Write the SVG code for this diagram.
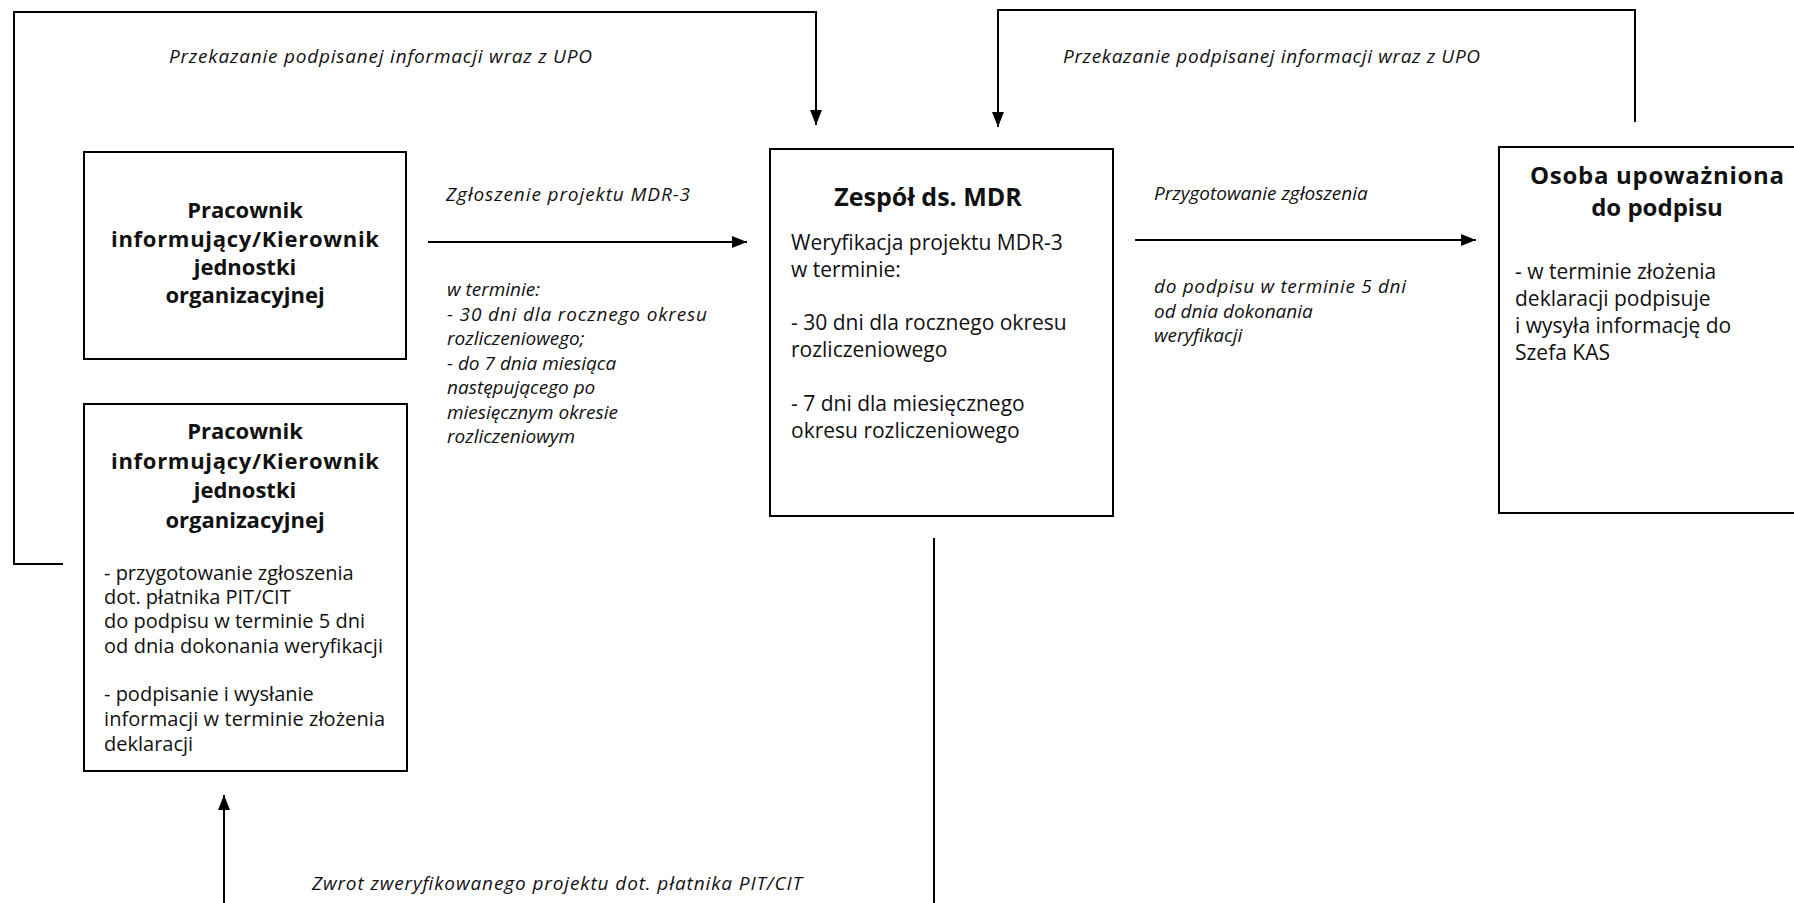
<svg xmlns="http://www.w3.org/2000/svg" width="1794" height="903" viewBox="0 0 1794 903">
<defs>
<marker id="ah" markerUnits="userSpaceOnUse" markerWidth="16" markerHeight="12" refX="15" refY="6" orient="auto">
<path d="M0,0 L15,6 L0,12 z" fill="#000"/>
</marker>
<style>
.box{fill:#fff;stroke:#000;stroke-width:2}
.ln{fill:none;stroke:#000;stroke-width:2}
.t{font-family:"Open Sans","Noto Sans",sans-serif;font-weight:700;font-size:22px;text-anchor:middle;fill:#111}
.b{font-family:"Open Sans","Noto Sans",sans-serif;font-size:20px;fill:#111}
.i{font-family:"Open Sans","Noto Sans",sans-serif;font-style:italic;font-size:19px;fill:#111}
</style>
</defs>
<rect width="1794" height="903" fill="#fff"/>
<g id="connectors">
<polyline class="ln" points="63,564 14,564 14,12 816,12 816,125" marker-end="url(#ah)"/>
<polyline class="ln" points="1635,122 1635,10 998,10 998,127" marker-end="url(#ah)"/>
<line class="ln" x1="428" y1="242" x2="747" y2="242" marker-end="url(#ah)"/>
<line class="ln" x1="1135" y1="240" x2="1476" y2="240" marker-end="url(#ah)"/>
<line class="ln" x1="224" y1="903" x2="224" y2="795" marker-end="url(#ah)"/>
<line class="ln" x1="934" y1="538" x2="934" y2="903"/>
<text class="i" x="169" y="63" textLength="423">Przekazanie podpisanej informacji wraz z UPO</text>
<text class="i" x="1063" y="63" textLength="417">Przekazanie podpisanej informacji wraz z UPO</text>
<text class="i" x="446" y="201" textLength="244">Zgłoszenie projektu MDR-3</text>
<text class="i" x="447" y="296">w terminie:</text>
<text class="i" x="447" y="320.5" textLength="260">- 30 dni dla rocznego okresu</text>
<text class="i" x="447" y="345">rozliczeniowego;</text>
<text class="i" x="447" y="369.5">- do 7 dnia miesiąca</text>
<text class="i" x="447" y="394">następującego po</text>
<text class="i" x="447" y="418.5">miesięcznym okresie</text>
<text class="i" x="447" y="443">rozliczeniowym</text>
<text class="i" x="1154" y="200">Przygotowanie zgłoszenia</text>
<text class="i" x="1154" y="293" textLength="252">do podpisu w terminie 5 dni</text>
<text class="i" x="1154" y="318">od dnia dokonania</text>
<text class="i" x="1154" y="342">weryfikacji</text>
<text class="i" x="312" y="890" textLength="490">Zwrot zweryfikowanego projektu dot. płatnika PIT/CIT</text>
</g>
<g id="node-pracownik-1">
<rect class="box" x="84" y="152" width="322" height="207"/>
<text class="t" x="245" y="218">Pracownik</text>
<text class="t" x="245" y="247" textLength="268">informujący/Kierownik</text>
<text class="t" x="245" y="275">jednostki</text>
<text class="t" x="245" y="303">organizacyjnej</text>
</g>
<g id="node-pracownik-2">
<rect class="box" x="84" y="404" width="323" height="367"/>
<text class="t" x="245" y="439">Pracownik</text>
<text class="t" x="245" y="469" textLength="268">informujący/Kierownik</text>
<text class="t" x="245" y="498">jednostki</text>
<text class="t" x="245" y="528">organizacyjnej</text>
<text class="b" x="104" y="580">- przygotowanie zgłoszenia</text>
<text class="b" x="104" y="604">dot. płatnika PIT/CIT</text>
<text class="b" x="104" y="628">do podpisu w terminie 5 dni</text>
<text class="b" x="104" y="653" textLength="279">od dnia dokonania weryfikacji</text>
<text class="b" x="104" y="701">- podpisanie i wysłanie</text>
<text class="b" x="104" y="726" textLength="281">informacji w terminie złożenia</text>
<text class="b" x="104" y="751">deklaracji</text>
</g>
<g id="node-zespol">
<rect class="box" x="770" y="149" width="343" height="367"/>
<text class="t" x="928" y="206" style="font-size:25px">Zespół ds. MDR</text>
<text class="b" x="791" y="250" style="font-size:21px">Weryfikacja projektu MDR-3</text>
<text class="b" x="791" y="277" style="font-size:21px">w terminie:</text>
<text class="b" x="791" y="330" style="font-size:21px">- 30 dni dla rocznego okresu</text>
<text class="b" x="791" y="357" style="font-size:21px">rozliczeniowego</text>
<text class="b" x="791" y="411" style="font-size:21px">- 7 dni dla miesięcznego</text>
<text class="b" x="791" y="438" style="font-size:21px">okresu rozliczeniowego</text>
</g>
<g id="node-osoba">
<rect class="box" x="1499" y="147" width="400" height="366"/>
<text class="t" x="1657" y="184" style="font-size:24px" textLength="254">Osoba upoważniona</text>
<text class="t" x="1657" y="216" style="font-size:24px">do podpisu</text>
<text class="b" x="1515" y="279" style="font-size:21px">- w terminie złożenia</text>
<text class="b" x="1515" y="306" style="font-size:21px">deklaracji podpisuje</text>
<text class="b" x="1515" y="333" style="font-size:21px">i wysyła informację do</text>
<text class="b" x="1515" y="360" style="font-size:21px">Szefa KAS</text>
</g>
</svg>
